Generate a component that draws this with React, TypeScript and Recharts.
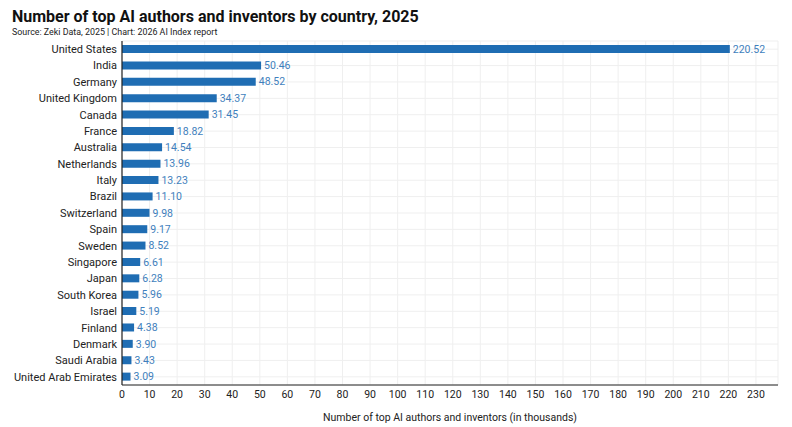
import React from 'react';
import {
  Bar,
  BarChart,
  CartesianGrid,
  LabelList,
  XAxis,
  YAxis,
} from 'recharts';

const countries = [
  'United States',
  'India',
  'Germany',
  'United Kingdom',
  'Canada',
  'France',
  'Australia',
  'Netherlands',
  'Italy',
  'Brazil',
  'Switzerland',
  'Spain',
  'Sweden',
  'Singapore',
  'Japan',
  'South Korea',
  'Israel',
  'Finland',
  'Denmark',
  'Saudi Arabia',
  'United Arab Emirates',
];

const authors = [
  220.52, 50.46, 48.52, 34.37, 31.45, 18.82, 14.54, 13.96, 13.23, 11.1, 9.98,
  9.17, 8.52, 6.61, 6.28, 5.96, 5.19, 4.38, 3.9, 3.43, 3.09,
];

const xTicks = [
  0, 10, 20, 30, 40, 50, 60, 70, 80, 90, 100, 110, 120, 130, 140, 150, 160,
  170, 180, 190, 200, 210, 220, 230,
];

const data = countries.map((country, i) => ({ country, value: authors[i] }));

const FONT = 'Roboto, "Open Sans", sans-serif';

// plain text tick so long names are not wrapped
const CountryTick = ({ x, y, payload }: any) => (
  <text
    x={x - 3}
    y={y}
    dy="0.35em"
    textAnchor="end"
    fill="#222"
    fontSize={11}
    fontFamily={FONT}
  >
    {payload.value}
  </text>
);

export default function App() {
  return (
    <div
      style={{
        position: 'absolute',
        left: 0,
        top: 0,
        width: 792,
        height: 427,
        background: '#fff',
        fontFamily: FONT,
      }}
    >
      <div
        style={{
          position: 'absolute',
          left: 12,
          top: 7,
          fontSize: 16,
          fontWeight: 700,
          color: '#111',
          whiteSpace: 'nowrap',
        }}
      >
        Number of top AI authors and inventors by country, 2025
      </div>
      <div
        style={{
          position: 'absolute',
          left: 12,
          top: 27,
          fontSize: 8.9,
          color: '#222',
          whiteSpace: 'nowrap',
        }}
      >
        Source: Zeki Data, 2025 | Chart: 2026 AI Index report
      </div>
      <div style={{ position: 'absolute', left: 0, top: 0 }}>
        <BarChart
          width={792}
          height={427}
          data={data}
          layout="vertical"
          margin={{ top: 41, right: 14, bottom: 2, left: 0 }}
        >
          <CartesianGrid stroke="#efefef" strokeWidth={1} />
          <XAxis
            type="number"
            domain={[0, 238]}
            ticks={xTicks}
            interval={0}
            tickSize={0}
            tickMargin={6}
            height={40}
            axisLine={{ stroke: '#222', strokeWidth: 1 }}
            tick={{ fill: '#222', fontSize: 10.5, fontFamily: FONT }}
            label={{
              value: 'Number of top AI authors and inventors (in thousands)',
              position: 'insideBottom',
              offset: 4,
              fill: '#222',
              fontSize: 10.5,
              fontFamily: FONT,
            }}
          />
          <YAxis
            type="category"
            dataKey="country"
            width={122}
            interval={0}
            tickSize={0}
            axisLine={{ stroke: '#222', strokeWidth: 1.2 }}
            tick={<CountryTick />}
          />
          <Bar dataKey="value" fill="#1f6db3" barSize={8} isAnimationActive={false}>
            <LabelList
              dataKey="value"
              position="right"
              offset={3}
              fill="#3f7fbd"
              fontSize={10.5}
              fontFamily={FONT}
              formatter={(v: number) => v.toFixed(2)}
            />
          </Bar>
        </BarChart>
      </div>
    </div>
  );
}
